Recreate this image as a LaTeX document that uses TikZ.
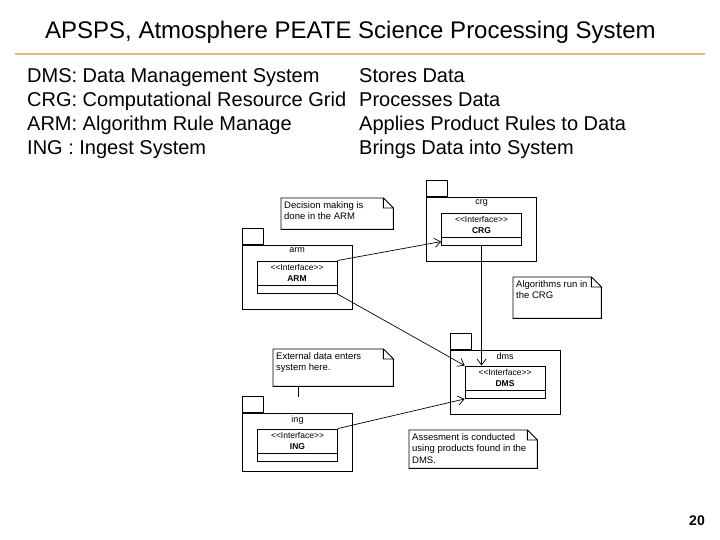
\documentclass[tikz,border=0pt]{standalone}
\usepackage{fontspec}
\setmainfont{Liberation Sans}
\usetikzlibrary{shapes,arrows.meta,positioning,calc}
\definecolor{rulegold}{RGB}{222,192,112}

\newcommand{\notetext}[3]{\parbox[c][#1][t]{#2}{\raggedright #3}}

\tikzset{
  pkgbody/.style={draw, fill=white, line width=0.9pt, minimum width=110pt, minimum height=64pt, inner sep=0pt},
  pkgtab/.style={draw, fill=white, line width=0.9pt, minimum width=21pt, minimum height=16pt, inner sep=0pt, anchor=south west},
  pkglabel/.style={font=\fontsize{9}{10}\selectfont, anchor=north, inner sep=1pt},
  ifhead/.style={draw, line width=0.7pt, minimum width=80pt, minimum height=24pt, inner sep=0pt, align=center, font=\fontsize{8.5}{11}\selectfont},
  iffoot/.style={draw, line width=0.7pt, minimum width=80pt, minimum height=8pt, inner sep=0pt, anchor=north},
  notebox/.style={anchor=north west, inner sep=3pt, font=\fontsize{9.5}{11.5}\selectfont},
  noteline/.style={line width=0.9pt},
  dep/.style={line width=0.7pt, -{Straight Barb[length=6pt,width=9pt]}},
  rowtext/.style={anchor=base west, inner sep=0pt, font=\fontsize{20}{24}\selectfont},
}

\begin{document}
\begin{tikzpicture}[x=1pt,y=-1pt]
  \useasboundingbox (0,0) rectangle (720,540);

  % heading
  \node[anchor=base west, inner sep=0pt, font=\fontsize{24}{28}\selectfont] (title) at (45,39) {APSPS, Atmosphere PEATE Science Processing System};
  \draw[rulegold, line width=2pt] (15,54) -- (705,54);

  \foreach \abbr/\desc [count=\i] in {DMS: Data Management System/Stores Data,
      CRG: Computational Resource Grid/Processes Data,
      ARM: Algorithm Rule Manage/Applies Product Rules to Data,
      ING : Ingest System/Brings Data into System}{
    \node[rowtext] (abbr\i) at (27,{59+24*\i}) {\abbr};
    \node[rowtext] (desc\i) at (359,{59+24*\i}) {\desc};
  }

  % packages
  \node[pkgbody] (armbody) at (297,277) {};
  \node[pkgtab] (armtab) at (armbody.north west) {};
  \node[pkglabel] (armlabel) at ([yshift=-2pt]armbody.north) {arm};
  \node[ifhead, below=16pt of armbody.north] (armhead) {<{}<Interface>{}>\\\textbf{ARM}};
  \node[iffoot] (armfoot) at (armhead.south) {};

  \node[pkgbody] (crgbody) at (481.5,229) {};
  \node[pkgtab] (crgtab) at (crgbody.north west) {};
  \node[pkglabel] (crglabel) at ([yshift=-2pt]crgbody.north) {crg};
  \node[ifhead, below=16pt of crgbody.north] (crghead) {<{}<Interface>{}>\\\textbf{CRG}};
  \node[iffoot] (crgfoot) at (crghead.south) {};

  \node[pkgbody] (dmsbody) at (505,382) {};
  \node[pkgtab] (dmstab) at (dmsbody.north west) {};
  \node[pkglabel] (dmslabel) at ([yshift=-2pt]dmsbody.north) {dms};
  \node[ifhead, below=16pt of dmsbody.north] (dmshead) {<{}<Interface>{}>\\\textbf{DMS}};
  \node[iffoot] (dmsfoot) at (dmshead.south) {};

  \node[pkgbody, minimum height=58pt] (ingbody) at (297.5,442) {};
  \node[pkgtab] (ingtab) at (ingbody.north west) {};
  \node[pkglabel] (inglabel) at ([yshift=-2pt]ingbody.north) {ing};
  \node[ifhead, below=16pt of ingbody.north] (inghead) {<{}<Interface>{}>\\\textbf{ING}};
  \node[iffoot] (ingfoot) at (inghead.south) {};

  % notes
  \node[notebox] (armnote) at (281,198) {\notetext{25pt}{106pt}{Decision making is\\done in the ARM}};
  \node[notebox] (crgnote) at (513,277) {\notetext{35pt}{82pt}{Algorithms run in\\the CRG}};
  \node[notebox] (ingnote) at (273,349) {\notetext{31pt}{114pt}{External data enters\\system here.}};
  \node[notebox] (dmsnote) at (409,430) {\notetext{32pt}{122pt}{Assesment is conducted\\using products found in the\\DMS.}};
  \foreach \n in {armnote,crgnote,ingnote,dmsnote}
    \draw[noteline] (\n.north west) -- ([xshift=-10pt]\n.north east) -- ([yshift=-10pt]\n.north east)
      -- (\n.south east) -- (\n.south west) -- cycle
      ([xshift=-10pt]\n.north east) -- ([xshift=-10pt,yshift=-10pt]\n.north east) -- ([yshift=-10pt]\n.north east);

  % dependencies
  \draw[dep] (armhead.north east) -- (crgfoot.west);
  \draw[dep] (armfoot.south east) -- (dmshead.north west);
  \draw[dep] (inghead.north east) -- (dmsfoot.south west);
  \draw[dep] (crgfoot.south) -- (crgfoot.south |- dmshead.north);
  \coordinate (ingpin) at (298,397);
  \draw[noteline] (ingnote.south -| ingpin) -- (ingpin);

  \node[font=\bfseries\fontsize{14}{16}\selectfont] (pagenum) at (697,521) {20};
\end{tikzpicture}
\end{document}
